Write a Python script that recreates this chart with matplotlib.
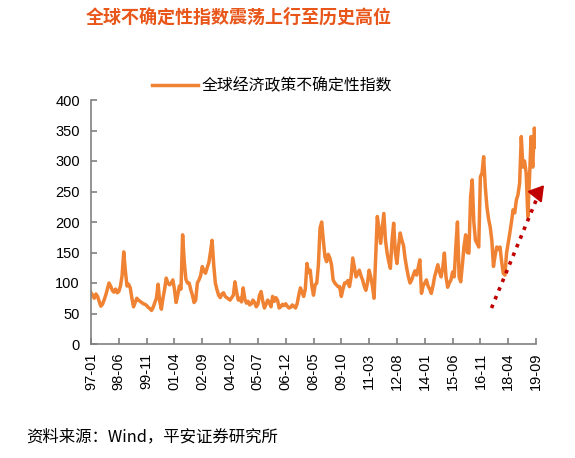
import pandas as pd
import matplotlib.pyplot as plt

plt.rcParams['font.family'] = ['Liberation Sans', 'Noto Sans CJK SC', 'DejaVu Sans']

# ---------------- data (monthly, 1997-01 .. 2019-09) ----------------

months = pd.period_range('1997-01', '2019-09', freq='M')

gepu = [
    84, 80, 75, 82, 78, 70, 62, 65, 72, 80, 90, 100,          # 1997
    95, 88, 85, 90, 84, 86, 95, 112, 151, 120, 95, 98,        # 1998
    92, 75, 61, 68, 75, 72, 70, 68, 66, 65, 63, 60,           # 1999
    58, 55, 60, 68, 75, 98, 70, 57, 75, 90, 108, 100,         # 2000
    97, 100, 105, 90, 68, 80, 95, 90, 179, 135, 106, 100,     # 2001
    100, 89, 80, 68, 72, 100, 105, 112, 127, 120, 116, 125,   # 2002
    133, 150, 170, 130, 100, 89, 80, 76, 82, 84, 78, 76,      # 2003
    74, 72, 76, 80, 102, 85, 72, 75, 69, 92, 74, 67,          # 2004
    70, 64, 66, 72, 68, 61, 65, 80, 86, 70, 59, 65,           # 2005
    72, 68, 61, 78, 70, 76, 72, 59, 61, 65, 63, 66,           # 2006
    62, 59, 60, 64, 62, 59, 66, 80, 92, 85, 78, 90,           # 2007
    132, 117, 121, 95, 80, 97, 100, 130, 190, 200, 170, 143,  # 2008
    135, 147, 141, 130, 105, 100, 97, 94, 94, 78, 90, 100,    # 2009
    100, 104, 94, 110, 141, 125, 110, 115, 121, 112, 105, 95,    # 2010
    88, 100, 121, 110, 95, 75, 140, 209, 190, 165, 190, 214,     # 2011
    170, 149, 135, 124, 170, 198, 150, 132, 160, 182, 170, 162,  # 2012
    140, 124, 110, 100, 105, 113, 120, 113, 125, 138, 83, 95,    # 2013
    100, 105, 95, 90, 83, 95, 110, 120, 130, 118, 110, 125,      # 2014
    149, 110, 93, 100, 105, 118, 110, 160, 200, 110, 102, 130,   # 2015
    160, 179, 150, 149, 240, 269, 200, 170, 165, 159, 274, 280,  # 2016
    307, 258, 225, 205, 192, 170, 127, 145, 159, 155, 159, 135,  # 2017
    116, 113, 149, 165, 182, 200, 220, 215, 236, 245, 264, 340,  # 2018
    290, 300, 280, 209, 270, 340, 290, 354, 323,                 # 2019
]

tick_step = 17
y_ticks = list(range(0, 401, 50))

title = '全球不确定性指数震荡上行至历史高位'
series_name = '全球经济政策不确定性指数'
source = '资料来源：Wind，平安证券研究所'

# ---------------- plot ----------------

fig = plt.figure(figsize=(5.75, 4.58), dpi=100)
ax = fig.add_axes([91 / 575, 114 / 458, 445 / 575, 244 / 458])

x = range(len(months))
ax.plot(x, gepu, color='#F08234', linewidth=2.5, label=series_name,
        solid_joinstyle='round')

ax.set_xlim(0, len(months) - 1)
ax.set_ylim(0, 400)
ax.set_yticks(y_ticks)
xt = list(range(0, len(months), tick_step))
ax.set_xticks(xt)
ax.set_xticklabels([months[i].strftime('%y-%m') for i in xt], rotation=90)

for s in ['top', 'right']:
    ax.spines[s].set_visible(False)
for s in ['left', 'bottom']:
    ax.spines[s].set_color('#808080')
    ax.spines[s].set_linewidth(1.2)
ax.tick_params(direction='in', length=4, width=1.2, color='#808080',
               labelsize=10.5, labelcolor='black')
ax.tick_params(axis='y', pad=8)
ax.tick_params(axis='x', pad=6)

# trend arrow (dotted, dark red)
ax.plot([0.90, 1.005], [0.1475, 0.61], transform=ax.transAxes,
        color='#C00000', linestyle=(0, (1, 1.6)), linewidth=2.6,
        clip_on=False, solid_capstyle='butt', dash_capstyle='butt')
ax.annotate('', xy=(1.022, 0.66), xytext=(1.0, 0.61),
            xycoords='axes fraction', textcoords='axes fraction',
            arrowprops=dict(arrowstyle='-|>,head_length=0.9,head_width=0.55',
                            color='#C00000', lw=1.5))

fig.legend(loc='center', bbox_to_anchor=(0.473, 0.812), frameon=False,
           handlelength=2.9, handletextpad=0.25,
           prop={'family': ['Noto Sans CJK SC'], 'size': 11.4})

fig.text(0.415, 0.962, title, ha='center', va='center', fontsize=13,
         fontweight='bold', color='#E8561A', family=['Noto Sans CJK SC'])
fig.text(0.045, 0.046, source, ha='left', va='center', fontsize=11.8,
         family=['Noto Sans CJK SC', 'Liberation Sans'])

fig.savefig('out.png', dpi=100)
